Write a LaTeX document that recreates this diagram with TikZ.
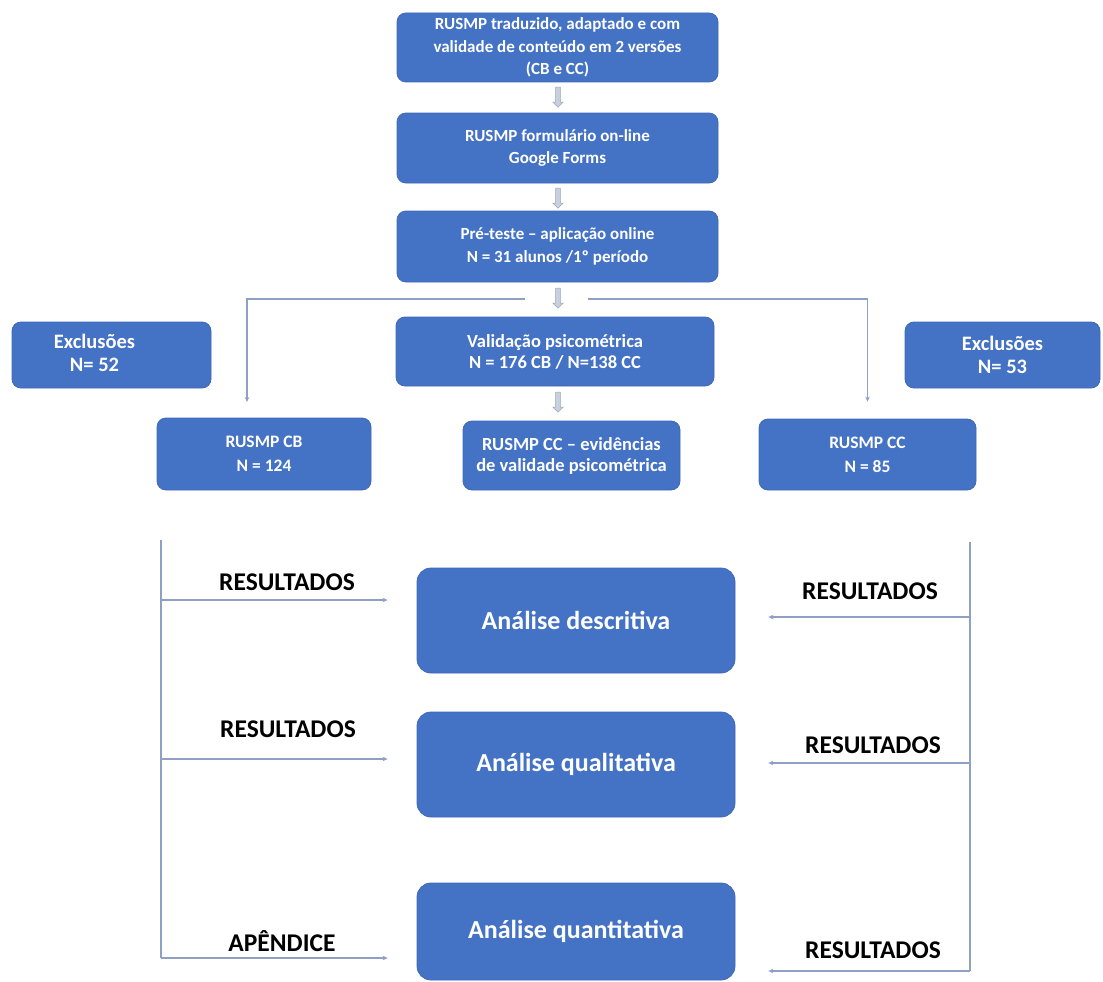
\documentclass[tikz,border=0pt]{standalone}
\usepackage{fontspec}
\setmainfont{Carlito}
\usetikzlibrary{shapes.arrows,arrows.meta,calc}
\definecolor{boxblue}{HTML}{4472C4}
\definecolor{boxedge}{HTML}{3F69B8}
\definecolor{connc}{HTML}{8FA0C4}
\definecolor{hollowedge}{HTML}{9AA6B8}
\definecolor{hollowfill}{HTML}{C8D0DE}
\tikzset{
  x=1pt, y=-1pt,
  bluebox/.style={draw=boxedge, line width=0.8pt, fill=boxblue, rounded corners=9pt,
    text=white, align=center, font=\bfseries\fontsize{17}{22.5}\selectfont, inner sep=0pt},
  midbox/.style={bluebox, font=\bfseries\fontsize{18.5}{21}\selectfont},
  smallbox/.style={bluebox, font=\bfseries\fontsize{17.5}{24}\selectfont},
  exbox/.style={bluebox, font=\bfseries\fontsize{20.5}{23}\selectfont},
  bigbox/.style={bluebox, rounded corners=14pt, font=\bfseries\fontsize{26}{30}\selectfont},
  hollow/.style={single arrow, draw=hollowedge, fill=hollowfill, line width=0.6pt,
    minimum height=20pt, minimum width=10pt, single arrow head extend=2pt,
    single arrow tip angle=90, shape border rotate=270, inner sep=1.5pt},
  conn/.style={draw=connc, line width=1.3pt, -{Stealth[length=5pt,width=4.5pt]}},
  plain/.style={draw=connc, line width=1.3pt},
  lab/.style={font=\bfseries\fontsize{25.5}{28}\selectfont, text=black, inner sep=0pt}
}
\begin{document}
\begin{tikzpicture}
\useasboundingbox (0,0) rectangle (1103,982);
\begin{scope}
\clip (0,0) rectangle (1103,982);
% top chain
\node[bluebox, minimum width=321pt, minimum height=69pt] (b1) at (557.5,47.5)
  {RUSMP traduzido, adaptado e com\\validade de conteúdo em 2 versões\\(CB e CC)};
\node[bluebox, minimum width=321pt, minimum height=70pt] (b2) at (557.5,148)
  {RUSMP formulário on-line\\Google Forms};
\node[bluebox, minimum width=321pt, minimum height=71pt] (b3) at (557.5,246.5)
  {Pré-teste -- aplicação online\\N = 31 alunos /1º período};
\node[midbox, minimum width=318pt, minimum height=69pt] (b4) at (555,351.5)
  {Validação psicométrica\\N = 176 CB / N=138 CC};
\node[midbox, minimum width=217pt, minimum height=69pt] (b5) at (571.5,455.5)
  {RUSMP CC -- evidências\\de validade psicométrica};
\node[exbox, minimum width=199pt, minimum height=66pt] (exL) at (111.5,355)
  {\begin{tabular}{@{}c@{}}Exclusões\\N= 52\end{tabular}\hspace*{34pt}};
\node[exbox, minimum width=195pt, minimum height=66pt] (exR) at (1002.5,355)
  {Exclusões\\N= 53};
\node[smallbox, minimum width=214pt, minimum height=72pt] (cb) at (264,454)
  {RUSMP CB\\N = 124};
\node[smallbox, minimum width=217pt, minimum height=71pt] (cc) at (867.5,454.5)
  {RUSMP CC\\N = 85};
% hollow arrows
\node[hollow] (h1) at (558,96) {};
\node[hollow] (h2) at (558,197) {};
\node[hollow] (h3) at (558,297) {};
\node[hollow] (h4) at (558,401) {};
% split
\coordinate (splitL) at (525,299);
\coordinate (splitR) at (588,299);
\coordinate (dropL) at (247,402);
\draw[conn] (splitL) -| (dropL);
\draw[conn, shorten >=17pt] (splitR) -| (cc.north);
% analysis boxes
\node[bigbox, minimum width=318pt, minimum height=105pt] (desc) at (576,620.5) {Análise descritiva};
\node[bigbox, minimum width=318pt, minimum height=105pt] (qual) at (576,764.5) {Análise qualitativa};
\node[bigbox, minimum width=318pt, minimum height=97pt] (quant) at (576,931.5) {Análise quantitativa};
% left trunk
\coordinate (topL) at (161,540);
\coordinate (aL1) at (161,600);
\coordinate (aL2) at (161,759);
\coordinate (aL3) at (161,958);
\draw[plain] (topL) -- (aL3);
\draw[conn, shorten >=29pt] (aL1) -- (aL1 -| desc.west);
\draw[conn, shorten >=29pt] (aL2) -- (aL2 -| qual.west);
\draw[conn, shorten >=29pt] (aL3) -- (aL3 -| quant.west);
% right trunk
\coordinate (topR) at (970,542);
\coordinate (aR1) at (970,617);
\coordinate (aR2) at (970,763);
\coordinate (aR3) at (970,971);
\draw[plain] (topR) -- (aR3);
\draw[conn, shorten >=33pt] (aR1) -- (aR1 -| desc.east);
\draw[conn, shorten >=33pt] (aR2) -- (aR2 -| qual.east);
\draw[conn, shorten >=33pt] (aR3) -- (aR3 -| quant.east);
% labels
\node[lab] (l1) at (287,582) {RESULTADOS};
\node[lab] (l2) at (288,729) {RESULTADOS};
\node[lab] (l3) at (282,941) {APÊNDICE};
\node[lab] (r1) at (870,591) {RESULTADOS};
\node[lab] (r2) at (873,745) {RESULTADOS};
\node[lab] (r3) at (873,950) {RESULTADOS};
\end{scope}
\end{tikzpicture}
\end{document}
